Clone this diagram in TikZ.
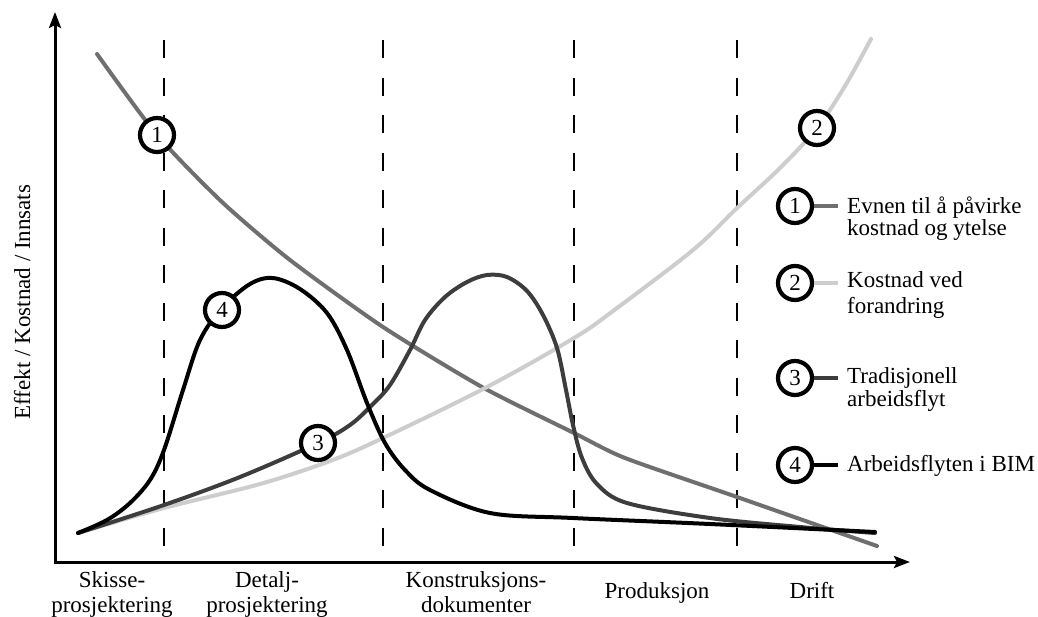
\documentclass[tikz,border=0pt]{standalone}
\usepackage{fontspec}
\setmainfont{Liberation Serif}
\usetikzlibrary{arrows.meta}
\definecolor{cimpact}{HTML}{6F6F6F}
\definecolor{cchange}{HTML}{CDCDCD}
\definecolor{ctrad}{HTML}{3D3D3D}
\definecolor{cbim}{HTML}{000000}

\begin{document}
\begin{tikzpicture}[x=1pt,y=-1pt,
  every node/.style={font=\fontsize{23}{25}\selectfont},
  axis/.style={line width=3pt, line join=miter},
  phase/.style={line width=2.6pt, dash pattern=on 18pt off 19.5pt},
  curve/.style={line width=4pt, line join=round, line cap=round},
  stub/.style={line width=4pt},
  tag/.style={circle, draw, line width=4.2pt, fill=white, minimum size=34pt, inner sep=0pt},
  legtext/.style={anchor=base west, inner sep=0pt},
  phaselabel/.style={anchor=base, inner sep=0pt}]
\useasboundingbox (0,0) rectangle (1038,616);

% axes
\coordinate (origin) at (55,562);
\coordinate (ytip) at (55,12);
\coordinate (xtip) at (910,562);
\draw[axis, {Stealth[length=16pt,width=12pt,inset=3pt]}-{Stealth[length=16pt,width=12pt,inset=3pt]}]
  (ytip) -- (origin) -- (xtip);
\node[rotate=90, anchor=base, inner sep=0pt] (ylab) at (30,302) {Effekt / Kostnad / Innsats};

% phase boundaries
\foreach \n/\x in {1/164, 2/383, 3/574, 4/737} {
  \coordinate (d\n t) at (\x,40);
  \coordinate (d\n b) at (\x,546);
  \draw[phase] (d\n t) -- (d\n b);
}

% 1: ability to influence cost and performance
\draw[curve, cimpact] plot[smooth, tension=0.4] coordinates {
  (97,54) (157,135) (222,202) (290,260) (383,327) (482,387) (574,433)
  (625,458) (737,497) (877,546)};
% 2: cost of change
\draw[curve, cchange] plot[smooth, tension=0.55] coordinates {
  (78,533) (164,508) (260,484) (330,461) (383,438) (487,387) (574,338)
  (613,311) (693,250) (737,208) (780,168) (817,128) (845,86) (871,39)};
% 3: traditional workflow
\draw[curve, ctrad] plot[smooth, tension=0.55] coordinates {
  (78,533) (164,505) (240,477) (318,443) (350,425) (372,405) (390,385)
  (410,350) (425,320) (445,297) (467,282) (487,275) (507,277) (527,291)
  (543,315) (557,348) (566,390) (573,425) (582,458) (597,484) (627,503)
  (710,518) (800,527) (875,533)};
% 4: BIM workflow
\draw[curve, cbim] plot[smooth, tension=0.55] coordinates {
  (78,533) (107,520) (130,503) (150,480) (164,450) (183,390) (200,340)
  (222,308) (250,284) (273,278) (300,289) (327,313) (347,350) (367,403)
  (385,443) (405,470) (430,490) (490,513) (573,518) (710,524) (875,532)};

% curve tags
\node[tag] (t1) at (157,135) {1};
\node[tag] (t2) at (817,128) {2};
\node[tag] (t3) at (318,443) {3};
\node[tag] (t4) at (222,310) {4};

% legend
\node[tag] (l1) at (795,206) {1};
\node[tag] (l2) at (795,283) {2};
\node[tag] (l3) at (795,378) {3};
\node[tag] (l4) at (795,465) {4};
\coordinate (l1e) at (838,206);
\coordinate (l2e) at (838,283);
\coordinate (l3e) at (838,378);
\coordinate (l4e) at (838,465);
\draw[stub, cimpact] (l1) -- (l1e);
\draw[stub, cchange] (l2) -- (l2e);
\draw[stub, ctrad] (l3) -- (l3e);
\draw[stub, cbim] (l4) -- (l4e);

\node[legtext] (l1a) at (847,213) {Evnen til å påvirke};
\node[legtext] (l1b) at (847,235) {kostnad og ytelse};
\node[legtext] (l2a) at (847,287) {Kostnad ved};
\node[legtext] (l2b) at (847,313) {forandring};
\node[legtext] (l3a) at (847,383) {Tradisjonell};
\node[legtext] (l3b) at (847,406) {arbeidsflyt};
\node[legtext] (l4a) at (847,471) {Arbeidsflyten i BIM};

% phase labels
\node[phaselabel] (p1a) at (112,587) {Skisse-};
\node[phaselabel] (p1b) at (112,612) {prosjektering};
\node[phaselabel] (p2a) at (267,587) {Detalj-};
\node[phaselabel] (p2b) at (267,612) {prosjektering};
\node[phaselabel] (p3a) at (476,587) {Konstruksjons-};
\node[phaselabel] (p3b) at (476,612) {dokumenter};
\node[phaselabel] (p4) at (657,598) {Produksjon};
\node[phaselabel] (p5) at (812,598) {Drift};
\end{tikzpicture}
\end{document}
